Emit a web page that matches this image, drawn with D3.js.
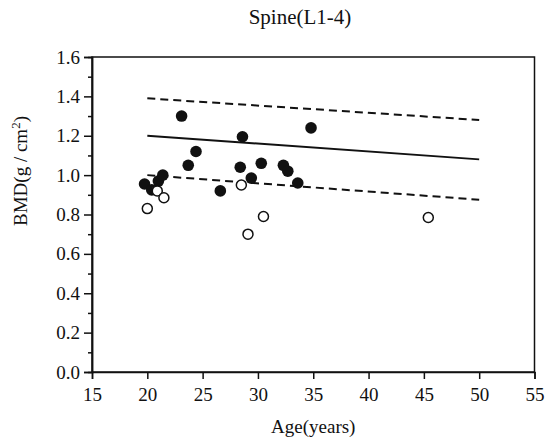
<!DOCTYPE html>
<html>
<head>
<meta charset="utf-8">
<script src="https://cdn.jsdelivr.net/npm/d3@7"></script>
<style>
  body { margin: 0; background: #fff; }
  text { font-family: "Liberation Serif", "Times New Roman", serif; fill: #111; }
</style>
</head>
<body>
<div class="chart"></div>
<script>
var w = 546,
  h = 440,
  margin = { top: 57, right: 11.5, bottom: 68, left: 92 };

// subjects, filled markers
var filledAge = [19.75, 20.4, 21.0, 21.4, 23.1, 23.7, 24.4, 26.6, 28.4, 28.6, 29.4, 30.3, 32.3, 32.7, 33.6, 34.8];
var filledBMD = [0.955, 0.925, 0.97, 1.0, 1.30, 1.05, 1.12, 0.92, 1.04, 1.195, 0.985, 1.06, 1.05, 1.02, 0.96, 1.24];
// subjects, open markers
var openAge = [20.0, 20.9, 21.5, 28.5, 29.1, 30.5, 45.4];
var openBMD = [0.83, 0.92, 0.885, 0.95, 0.70, 0.79, 0.785];
// reference line and its band
var lineAge = [20, 50];
var meanBMD = [1.20, 1.08];
var upperBMD = [1.39, 1.28];
var lowerBMD = [1.00, 0.875];

var xTicks = [15, 20, 25, 30, 35, 40, 45, 50, 55];
var yTicks = [0, 0.2, 0.4, 0.6, 0.8, 1.0, 1.2, 1.4, 1.6];
var yMinor = d3.range(1, 16, 2).map(function (d) { return d / 10; });

var svg = d3.select('.chart')
  .append('svg')
  .attr('width', w)
  .attr('height', h);

var x = d3.scaleLinear().domain([15, 55]).range([margin.left, w - margin.right]);
var y = d3.scaleLinear().domain([0, 1.6]).range([h - margin.bottom, margin.top]);

// frame
svg.append('rect')
  .attr('x', x(15))
  .attr('y', y(1.6))
  .attr('width', x(55) - x(15))
  .attr('height', y(0) - y(1.6))
  .attr('fill', 'none')
  .attr('stroke', '#111')
  .attr('stroke-width', 1.5);

var xAxis = svg.append('g')
  .attr('transform', 'translate(0,' + y(0) + ')')
  .call(d3.axisBottom(x).tickValues(xTicks).tickSize(7).tickPadding(9).tickFormat(d3.format('d')));

var yAxis = svg.append('g')
  .attr('transform', 'translate(' + x(15) + ',0)')
  .call(d3.axisLeft(y).tickValues(yTicks).tickSize(8).tickPadding(4).tickFormat(d3.format('.1f')));

var yAxisMinor = svg.append('g')
  .attr('transform', 'translate(' + x(15) + ',0)')
  .call(d3.axisLeft(y).tickValues(yMinor).tickSize(4).tickFormat(''));

[xAxis, yAxis, yAxisMinor].forEach(function (g) {
  g.attr('font-family', '"Liberation Serif", serif').attr('font-size', 19);
  g.select('.domain').attr('stroke', '#111').attr('stroke-width', 1.5);
  g.selectAll('.tick line').attr('stroke', '#111').attr('stroke-width', 1.5);
  g.selectAll('.tick text').attr('fill', '#111');
});

// lines
var line = d3.line()
  .x(function (d) { return x(d[0]); })
  .y(function (d) { return y(d[1]); });

var drawLine = function (vals, dashed) {
  svg.append('path')
    .datum(lineAge.map(function (a, i) { return [a, vals[i]]; }))
    .attr('d', line)
    .attr('fill', 'none')
    .attr('stroke', '#111')
    .attr('stroke-width', 2)
    .attr('stroke-dasharray', dashed ? '8,5' : null);
};
drawLine(upperBMD, true);
drawLine(meanBMD, false);
drawLine(lowerBMD, true);

// points
svg.append('g').selectAll('circle')
  .data(filledAge.map(function (a, i) { return [a, filledBMD[i]]; }))
  .enter()
  .append('circle')
  .attr('cx', function (d) { return x(d[0]); })
  .attr('cy', function (d) { return y(d[1]); })
  .attr('r', 5.8)
  .attr('fill', '#111');

svg.append('g').selectAll('circle')
  .data(openAge.map(function (a, i) { return [a, openBMD[i]]; }))
  .enter()
  .append('circle')
  .attr('cx', function (d) { return x(d[0]); })
  .attr('cy', function (d) { return y(d[1]); })
  .attr('r', 5)
  .attr('fill', '#fff')
  .attr('stroke', '#111')
  .attr('stroke-width', 1.5);

// titles
svg.append('text')
  .attr('x', 300)
  .attr('y', 24)
  .attr('text-anchor', 'middle')
  .style('font-size', '21px')
  .text('Spine(L1-4)');

svg.append('text')
  .attr('x', (x(15) + x(55)) / 2)
  .attr('y', 433)
  .attr('text-anchor', 'middle')
  .style('font-size', '19px')
  .text('Age(years)');

var yl = svg.append('text')
  .attr('transform', 'translate(27,171) rotate(-90)')
  .attr('text-anchor', 'middle')
  .style('font-size', '19px');
yl.append('tspan').text('BMD(g / cm');
yl.append('tspan').attr('dy', -7).style('font-size', '13px').text('2');
yl.append('tspan').attr('dy', 7).text(')');
</script>
</body>
</html>
